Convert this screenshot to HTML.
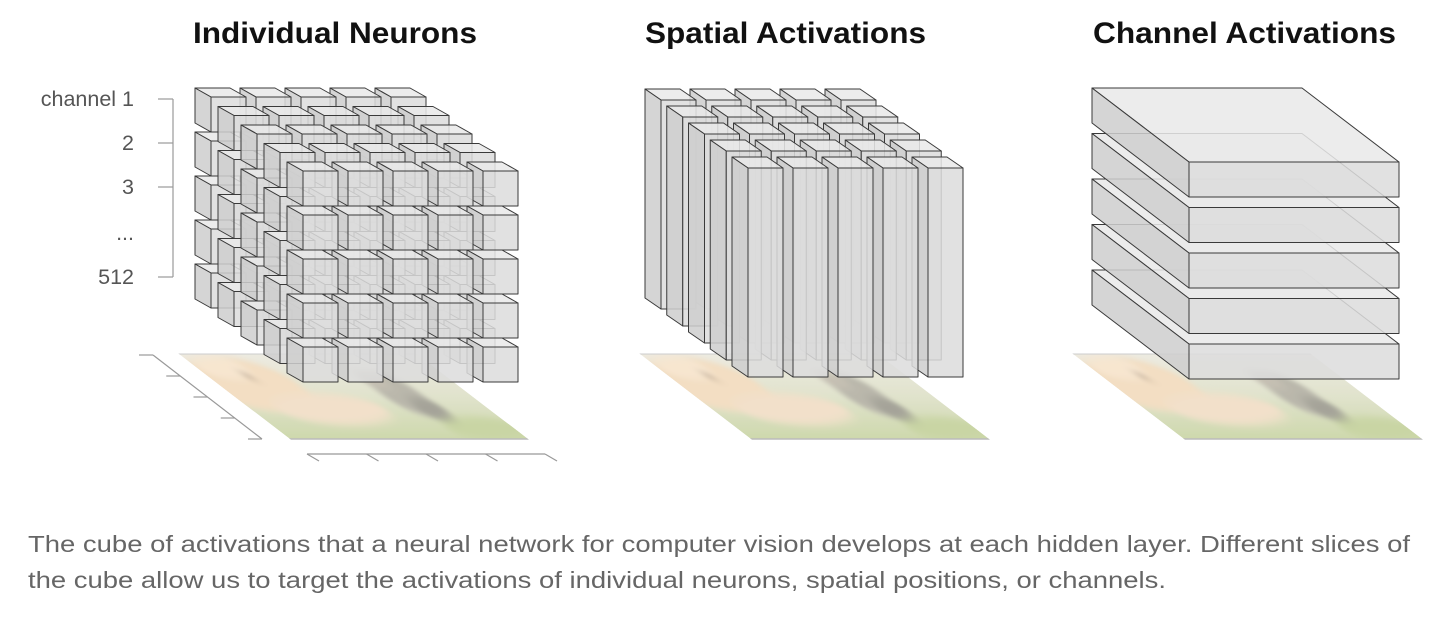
<!DOCTYPE html>
<html><head><meta charset="utf-8"><style>
html,body{margin:0;padding:0;background:#fff;}
svg{display:block;font-family:"Liberation Sans",sans-serif;}
</style></head><body>
<svg id="fig" width="1436" height="622" viewBox="0 0 1436 622" xmlns="http://www.w3.org/2000/svg">
<defs>
<filter id="blur" x="-10%" y="-10%" width="120%" height="120%"><feGaussianBlur stdDeviation="4"/></filter>
<linearGradient id="ground" x1="0" y1="0" x2="0" y2="1">
<stop offset="0" stop-color="#e9e6da"/><stop offset="0.5" stop-color="#d9dcc0"/><stop offset="1" stop-color="#c2cf98"/>
</linearGradient>
<clipPath id="pclip"><rect x="0" y="0" width="238" height="85"/></clipPath>
<g id="photo">
<g clip-path="url(#pclip)">
<rect x="0" y="0" width="238" height="85" fill="url(#ground)"/>
<g filter="url(#blur)">
<ellipse cx="30" cy="30" rx="50" ry="28" fill="#f0d6b4"/>
<ellipse cx="25" cy="14" rx="24" ry="12" fill="#f5e0c4"/>
<ellipse cx="80" cy="55" rx="55" ry="16" fill="#efd9bd"/>
<ellipse cx="40" cy="22" rx="4" ry="3" fill="#8a7058"/>
<ellipse cx="170" cy="40" rx="20" ry="22" fill="#a9a697"/>
<ellipse cx="160" cy="26" rx="12" ry="9" fill="#b7b0a0"/>
<ellipse cx="180" cy="55" rx="14" ry="12" fill="#8f8d80"/>
<ellipse cx="210" cy="75" rx="40" ry="12" fill="#bccb8e"/>
</g>
<rect x="0" y="0" width="238" height="85" fill="#fff" opacity="0.2"/>
</g>
<line x1="0" y1="85" x2="238" y2="85" stroke="#bbb" stroke-width="1.5"/>
<line x1="0" y1="0" x2="238" y2="0" stroke="#ccc" stroke-width="1"/>
</g>
</defs>
<g id="titles" font-size="30" font-weight="bold" fill="#111">
<text x="193" y="43" textLength="284" lengthAdjust="spacingAndGlyphs">Individual Neurons</text>
<text x="645" y="43" textLength="281" lengthAdjust="spacingAndGlyphs">Spatial Activations</text>
<text x="1093" y="43" textLength="303" lengthAdjust="spacingAndGlyphs">Channel Activations</text>
</g>
<g id="planes"></g>
<g id="axes"></g>
<g id="cube1"></g>
<g id="cube2"></g>
<g id="cube3"></g>
<g id="caption" font-size="23" fill="#666">
<text x="28" y="552" textLength="1382" lengthAdjust="spacingAndGlyphs">The cube of activations that a neural network for computer vision develops at each hidden layer. Different slices of</text>
<text x="28" y="588" textLength="1138" lengthAdjust="spacingAndGlyphs">the cube allow us to target the activations of individual neurons, spatial positions, or channels.</text>
</g>
</svg>
<script>
const channelLabels = ["channel 1","2","3","...","512"];
const channelTickY = [99,143,187,null,277];
const gridRows = 5, gridCols = 5, gridDepth = 5, slabCount = 5;
const planeOrigins = [[179,354],[640,354],[1073,354]];

const NS="http://www.w3.org/2000/svg";
function mk(tag, attrs, parent){const e=document.createElementNS(NS,tag);for(const k in attrs)e.setAttribute(k,attrs[k]);parent.appendChild(e);return e;}
function box(parent,x,y,w,h,ox,oy,name){
  const g=mk('g',{},parent);
  
  
  const st={stroke:'#3a3a3a','stroke-width':1,'stroke-linejoin':'round','fill-opacity':0.86};
  mk('polygon',Object.assign({points:`${x},${y} ${x+w},${y} ${x+w-ox},${y-oy} ${x-ox},${y-oy}`,fill:'#e9e9e9'},st),g);
  mk('polygon',Object.assign({points:`${x},${y} ${x},${y+h} ${x-ox},${y+h-oy} ${x-ox},${y-oy}`,fill:'#cecece'},st),g);
  mk('rect',Object.assign({x:x,y:y,width:w,height:h,fill:'#dcdcdc'},st),g);
}
const planes=document.getElementById('planes');
planeOrigins.forEach((p,i)=>{
  const u=mk('use',{href:'#photo',transform:`matrix(1,0,1.306,1,${p[0]},${p[1]})`},planes);
  
  
});
const axes=document.getElementById('axes');
const ax={stroke:'#999','stroke-width':1.2,fill:'none'};
mk('line',Object.assign({x1:173,y1:99,x2:173,y2:277},ax),axes);
channelLabels.forEach((lab,i)=>{
  const y=[99,143,187,233,277][i];
  if(channelTickY[i]!==null) mk('line',Object.assign({x1:158,y1:channelTickY[i],x2:173,y2:channelTickY[i]},ax),axes);
  const t=mk('text',{x:134,y:y+7,'text-anchor':'end','font-size':21.5,fill:'#555'},axes);
  
  
  t.textContent=lab;
});
mk('line',Object.assign({x1:153,y1:355,x2:262,y2:439},ax),axes);
for(let i=0;i<5;i++){const x=153+i*27.25,y=355+i*21;mk('line',Object.assign({x1:x-14,y1:y,x2:x,y2:y},ax),axes);}
mk('line',Object.assign({x1:307,y1:454,x2:545,y2:454},ax),axes);
for(let i=0;i<5;i++){const x=307+i*59.5;mk('line',Object.assign({x1:x,y1:454,x2:x+12,y2:461},ax),axes);}
const c1=document.getElementById('cube1');
for(let d=0;d<gridDepth;d++){
  const bx=303-(gridDepth-1-d)*23, by=171-(gridDepth-1-d)*18.5;
  for(let r=gridRows-1;r>=0;r--) for(let c=gridCols-1;c>=0;c--)
    box(c1,bx+c*45,by+r*44,35,35,16,9,'neuron-cube');
}
const c2=document.getElementById('cube2');
for(let d=0;d<gridDepth;d++){
  const bx=748-(gridDepth-1-d)*21.75, by=168-(gridDepth-1-d)*17;
  for(let c=gridCols-1;c>=0;c--) box(c2,bx+c*45,by,35,209,16,11,'spatial-column');
}
const c3=document.getElementById('cube3');
for(let s=slabCount-1;s>=0;s--) box(c3,1189,162+s*45.5,210,35,97,74,'channel-slab');
</script>
</body></html>
